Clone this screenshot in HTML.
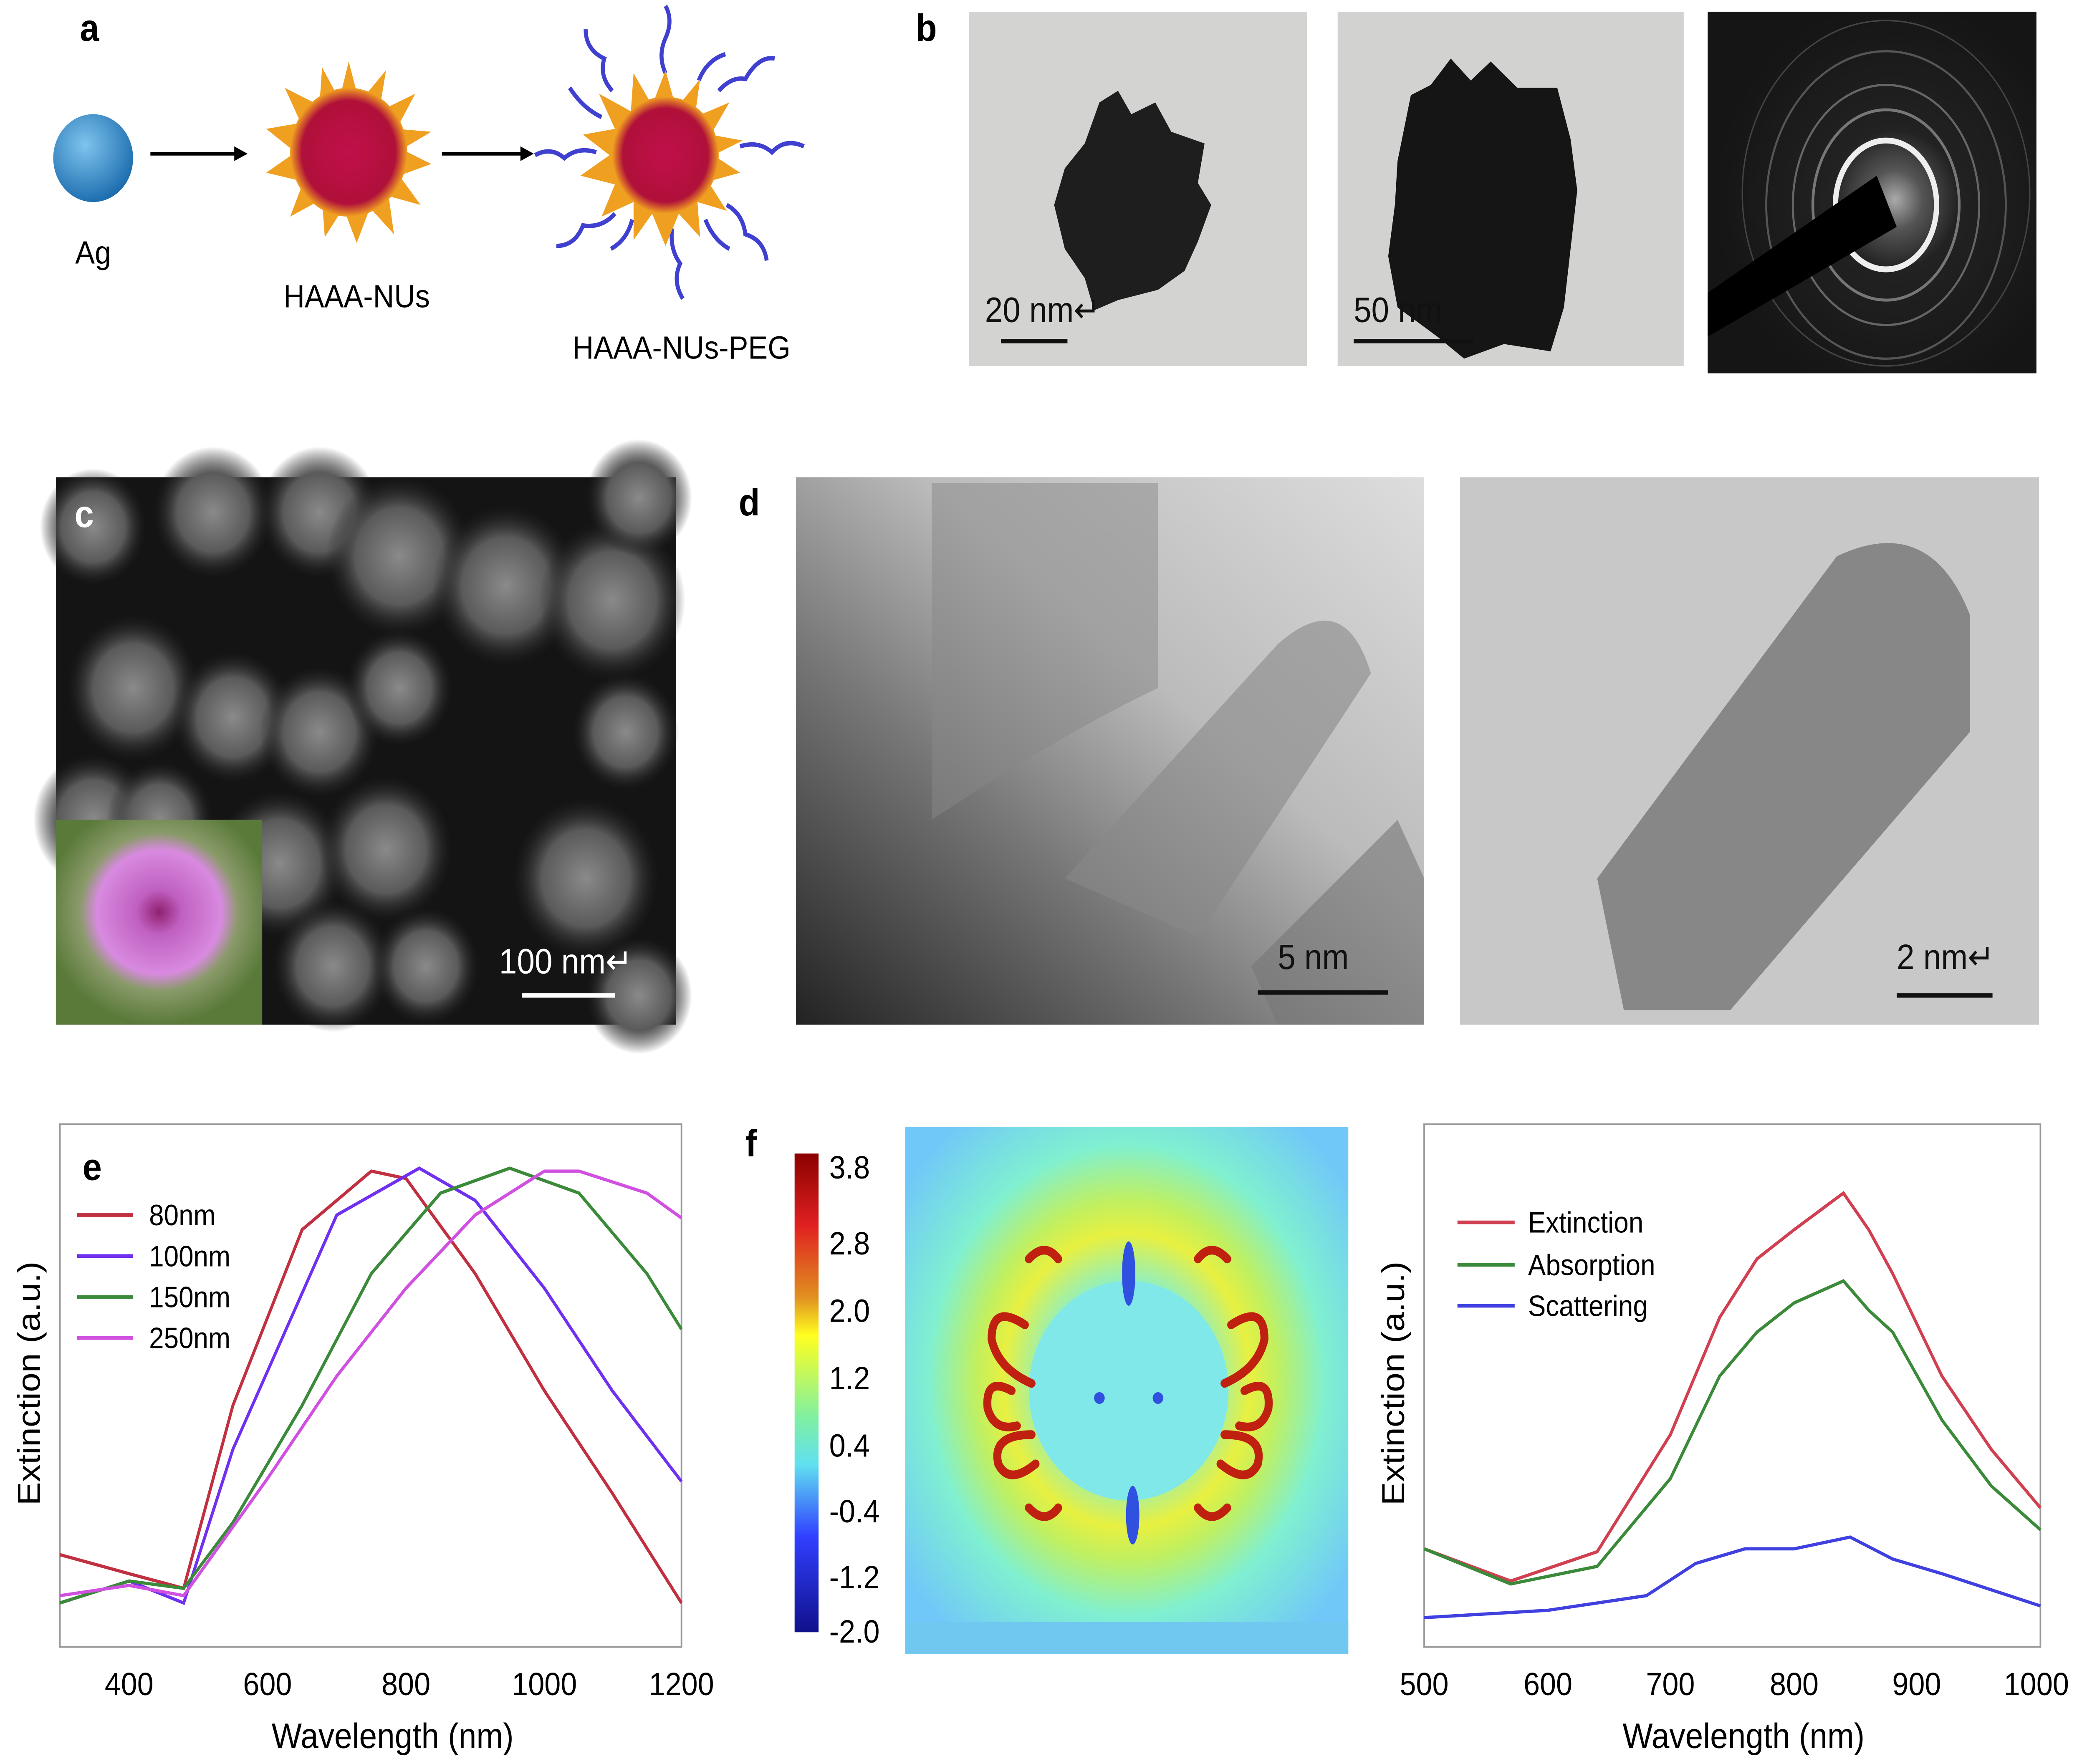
<!DOCTYPE html>
<html><head><meta charset="utf-8"><style>
html,body{margin:0;padding:0;background:#fff;overflow:hidden;width:100vw;height:100vh;}
svg{display:block;width:100vw;height:100vh;}
text{font-family:"Liberation Sans",sans-serif;}
</style></head><body>
<svg viewBox="0 0 1568 1205" preserveAspectRatio="none" xmlns="http://www.w3.org/2000/svg">
<defs>
<radialGradient id="ag" cx="40%" cy="35%" r="65%"><stop offset="0" stop-color="#7fc4ee"/><stop offset="1" stop-color="#1f6fb0"/></radialGradient>
<radialGradient id="nu" cx="50%" cy="50%" r="50%"><stop offset="0" stop-color="#c0104a"/><stop offset="0.8" stop-color="#b0103a"/><stop offset="1" stop-color="#f0a020"/></radialGradient>
<radialGradient id="saed" cx="57%" cy="52%" r="55%"><stop offset="0" stop-color="#aaa"/><stop offset="0.15" stop-color="#555"/><stop offset="0.35" stop-color="#222"/><stop offset="1" stop-color="#151515"/></radialGradient>
<radialGradient id="sem" cx="50%" cy="50%" r="50%"><stop offset="0" stop-color="#8a8a8a"/><stop offset="0.6" stop-color="#5a5a5a"/><stop offset="1" stop-color="#222" stop-opacity="0"/></radialGradient>
<radialGradient id="flower" cx="50%" cy="45%" r="55%"><stop offset="0" stop-color="#902070"/><stop offset="0.2" stop-color="#c060c0"/><stop offset="0.55" stop-color="#d88ae0"/><stop offset="0.7" stop-color="#8a9a6a"/><stop offset="1" stop-color="#5a7a3a"/></radialGradient>
<linearGradient id="d1" x1="0" y1="1" x2="1" y2="0"><stop offset="0" stop-color="#222"/><stop offset="0.35" stop-color="#777"/><stop offset="0.6" stop-color="#bbb"/><stop offset="1" stop-color="#ddd"/></linearGradient>
<linearGradient id="cbar" x1="0" y1="0" x2="0" y2="1"><stop offset="0" stop-color="#8b0000"/><stop offset="0.15" stop-color="#e02020"/><stop offset="0.3" stop-color="#e09020"/><stop offset="0.38" stop-color="#ffff20"/><stop offset="0.55" stop-color="#80f0a0"/><stop offset="0.65" stop-color="#60e0f0"/><stop offset="0.8" stop-color="#3040ff"/><stop offset="1" stop-color="#10108b"/></linearGradient>
<radialGradient id="field" cx="50%" cy="48%" r="62%"><stop offset="0" stop-color="#80f0d8"/><stop offset="0.3" stop-color="#90f0c0"/><stop offset="0.45" stop-color="#e8f040"/><stop offset="0.55" stop-color="#c0f060"/><stop offset="0.72" stop-color="#80f0d0"/><stop offset="1" stop-color="#70c8f8"/></radialGradient>
</defs>

<!-- panel a -->
<text x="60" y="28" font-size="26" font-weight="bold">a</text>
<circle cx="70" cy="108" r="30" fill="url(#ag)"/>
<text x="70" y="180" font-size="22" text-anchor="middle">Ag</text>
<line x1="113" y1="105" x2="178" y2="105" stroke="#000" stroke-width="2.5"/><polygon points="186,105 176,100 176,110"/>
<polygon fill="#f0a020" points="262,42 270,70 290,48 285,76 312,64 298,88 324,90 302,102 324,112 300,120 316,140 292,134 296,160 278,142 268,166 258,142 244,162 242,136 218,148 228,124 200,118 222,104 200,88 226,84 214,60 240,72 242,46 255,68"/>
<circle cx="262" cy="104" r="44" fill="url(#nu)"/>
<text x="268" y="210" font-size="22" text-anchor="middle">HAAA-NUs</text>
<line x1="332" y1="105" x2="393" y2="105" stroke="#000" stroke-width="2.5"/><polygon points="401,105 391,100 391,110"/>
<g stroke="#4040d0" stroke-width="3" fill="none">
<path d="M500 50 q-6 -12 0 -24 q6 -12 0 -22"/><path d="M540 62 q10 -10 20 -8 q10 -16 22 -14"/><path d="M556 100 q14 -4 24 4 q10 -10 24 -4"/><path d="M546 140 q12 6 14 20 q14 4 16 18"/><path d="M505 156 q-2 14 6 24 q-6 12 2 24"/><path d="M462 146 q-10 10 -24 8 q-6 14 -20 14"/><path d="M448 104 q-14 -4 -24 4 q-10 -8 -22 -2"/><path d="M460 62 q-10 -10 -6 -22 q-14 -6 -14 -20"/><path d="M525 55 q6 -14 20 -18"/><path d="M475 150 q-4 14 -16 20"/><path d="M530 150 q6 14 18 20"/><path d="M452 80 q-14 -6 -24 -20"/></g>
<polygon fill="#f0a020" points="500,48 508,74 526,54 522,80 548,70 534,92 558,96 536,106 556,118 532,124 546,144 524,138 526,162 510,146 500,168 490,146 476,164 476,138 452,148 462,126 436,120 458,106 438,92 462,88 450,64 474,76 476,50 490,72"/>
<circle cx="500" cy="106" r="40" fill="url(#nu)"/>
<text x="512" y="245" font-size="22" text-anchor="middle">HAAA-NUs-PEG</text>

<!-- panel b -->
<text x="688" y="28" font-size="26" font-weight="bold">b</text>
<rect x="728" y="8" width="254" height="242" fill="#d3d3d1"/>
<path d="M815 190 L800 170 L792 140 L800 115 L815 98 L826 70 L840 62 L850 78 L868 70 L880 90 L905 98 L900 125 L910 140 L900 165 L890 185 L870 198 L840 205 L822 212 Z" fill="#1e1e1e"/>
<text x="740" y="220" font-size="24" fill="#111">20 nm↵</text>
<line x1="752" y1="233" x2="802" y2="233" stroke="#111" stroke-width="3"/>
<rect x="1005" y="8" width="260" height="242" fill="#d2d2d0"/>
<path d="M1050 110 L1060 65 L1075 58 L1090 40 L1105 55 L1120 42 L1140 60 L1170 60 L1180 95 L1185 130 L1180 170 L1175 210 L1165 240 L1130 235 L1100 245 L1080 230 L1050 210 L1043 175 L1048 140 Z" fill="#151515"/>
<text x="1017" y="220" font-size="24" fill="#111">50 nm</text>
<line x1="1017" y1="233" x2="1107" y2="233" stroke="#111" stroke-width="3"/>
<rect x="1283" y="8" width="247" height="247" fill="url(#saed)"/>
<g fill="none"><ellipse cx="1417" cy="140" rx="38" ry="44" stroke="#eee" stroke-width="4"/><ellipse cx="1417" cy="140" rx="55" ry="65" stroke="#777" stroke-width="2"/><ellipse cx="1417" cy="140" rx="70" ry="82" stroke="#666" stroke-width="1.5"/><ellipse cx="1417" cy="140" rx="90" ry="105" stroke="#555" stroke-width="1.5"/><ellipse cx="1417" cy="132" rx="108" ry="118" stroke="#444" stroke-width="1"/></g>
<polygon points="1283,200 1410,120 1425,155 1283,230" fill="#000"/>

<!-- panel c -->
<rect x="42" y="326" width="466" height="374" fill="#141414"/>
<g fill="url(#sem)">
<circle cx="70" cy="360" r="40"/><circle cx="160" cy="350" r="45"/><circle cx="240" cy="350" r="45"/><circle cx="300" cy="380" r="55"/><circle cx="380" cy="400" r="55"/><circle cx="460" cy="410" r="55"/><circle cx="480" cy="340" r="40"/><circle cx="100" cy="470" r="50"/><circle cx="175" cy="490" r="45"/><circle cx="240" cy="500" r="45"/><circle cx="300" cy="470" r="40"/><circle cx="70" cy="560" r="45"/><circle cx="120" cy="560" r="40"/><circle cx="210" cy="590" r="50"/><circle cx="290" cy="580" r="50"/><circle cx="250" cy="660" r="45"/><circle cx="320" cy="660" r="40"/><circle cx="440" cy="600" r="55"/><circle cx="480" cy="680" r="40"/><circle cx="470" cy="500" r="40"/></g>
<rect x="42" y="560" width="155" height="140" fill="url(#flower)"/>
<text x="375" y="665" font-size="24" fill="#fff">100 nm↵</text>
<line x1="392" y1="680" x2="462" y2="680" stroke="#fff" stroke-width="3"/>
<text x="56" y="360" font-size="26" font-weight="bold" fill="#fff">c</text>

<!-- panel d -->
<text x="555" y="352" font-size="26" font-weight="bold">d</text>
<rect x="598" y="326" width="472" height="374" fill="url(#d1)"/>
<path d="M700 330 L870 330 L870 470 Q800 500 700 560z" fill="#888" opacity="0.5"/>
<path d="M800 600 L960 440 Q1010 400 1030 460 L900 640z" fill="#888" opacity="0.6"/>
<path d="M940 660 L1050 560 L1070 600 L1070 700 L960 700z" fill="#777" opacity="0.6"/>
<text x="960" y="662" font-size="24" fill="#111">5 nm</text>
<line x1="945" y1="678" x2="1043" y2="678" stroke="#111" stroke-width="3"/>
<rect x="1097" y="326" width="435" height="374" fill="#c8c8c8"/>
<path d="M1200 600 L1380 380 Q1450 350 1480 420 L1480 500 L1300 690 L1220 690z" fill="#777" opacity="0.8"/>
<text x="1425" y="662" font-size="24" fill="#111">2 nm↵</text>
<line x1="1425" y1="680" x2="1497" y2="680" stroke="#111" stroke-width="3"/>

<!-- panel e -->
<rect x="45" y="768" width="467" height="357" fill="none" stroke="#999" stroke-width="1.2"/>
<text x="62" y="806" font-size="26" font-weight="bold">e</text>
<g stroke-width="2.2" fill="none">
<polyline stroke="#c03040" points="45,1062 97,1075 138,1085 175,960 227,840 279,800 305,805 357,870 409,950 460,1020 512,1095"/>
<polyline stroke="#7030f0" points="45,1095 97,1080 138,1095 175,990 253,830 315,798 357,820 409,880 460,950 512,1012"/>
<polyline stroke="#3a8a3a" points="45,1095 97,1080 138,1085 175,1040 227,960 279,870 331,815 383,798 435,815 486,870 512,908"/>
<polyline stroke="#d050e0" points="45,1090 97,1083 138,1090 201,1010 253,940 305,880 357,830 409,800 435,800 486,815 512,832"/>
</g>
<g font-size="20"><line x1="58" y1="830" x2="100" y2="830" stroke="#c03040" stroke-width="2.5"/><text x="112" y="837">80nm</text>
<line x1="58" y1="858" x2="100" y2="858" stroke="#7030f0" stroke-width="2.5"/><text x="112" y="865">100nm</text>
<line x1="58" y1="886" x2="100" y2="886" stroke="#3a8a3a" stroke-width="2.5"/><text x="112" y="893">150nm</text>
<line x1="58" y1="914" x2="100" y2="914" stroke="#d050e0" stroke-width="2.5"/><text x="112" y="921">250nm</text></g>
<g font-size="22" text-anchor="middle"><text x="97" y="1158">400</text><text x="201" y="1158">600</text><text x="305" y="1158">800</text><text x="409" y="1158">1000</text><text x="512" y="1158">1200</text></g>
<text x="295" y="1194" font-size="24" text-anchor="middle">Wavelength (nm)</text>
<text transform="translate(30,945) rotate(-90)" font-size="24" text-anchor="middle">Extinction (a.u.)</text>

<!-- panel f -->
<text x="560" y="790" font-size="26" font-weight="bold">f</text>
<rect x="597" y="788" width="18" height="327" fill="url(#cbar)"/>
<g font-size="22"><text x="623" y="805">3.8</text><text x="623" y="857">2.8</text><text x="623" y="903">2.0</text><text x="623" y="949">1.2</text><text x="623" y="995">0.4</text><text x="623" y="1040">-0.4</text><text x="623" y="1085">-1.2</text><text x="623" y="1122">-2.0</text></g>
<rect x="680" y="770" width="333" height="360" fill="url(#field)"/>
<rect x="680" y="1108" width="333" height="22" fill="#70c8f0"/>
<circle cx="848" cy="950" r="75" fill="#80e8e8"/>
<g fill="none" stroke="#c02010" stroke-width="6" stroke-linecap="round">
<path d="M770 905 q-25 -15 -25 10 q5 20 30 30"/><path d="M760 950 q-20 -10 -18 12 q5 16 22 12"/><path d="M775 980 q-30 0 -25 20 q8 15 28 0"/>
<path d="M925 905 q25 -15 25 10 q-5 20 -30 30"/><path d="M935 950 q20 -10 18 12 q-5 16 -22 12"/><path d="M920 980 q30 0 25 20 q-8 15 -28 0"/>
<path d="M795 860 q-10 -12 -22 0"/><path d="M900 860 q10 -12 22 0"/><path d="M795 1030 q-10 12 -22 0"/><path d="M900 1030 q10 12 22 0"/>
</g>
<g fill="#3050e0"><ellipse cx="848" cy="870" rx="5" ry="22"/><ellipse cx="851" cy="1035" rx="5" ry="20"/><circle cx="826" cy="955" r="4"/><circle cx="870" cy="955" r="4"/></g>

<!-- right chart -->
<rect x="1070" y="768" width="463" height="357" fill="none" stroke="#999" stroke-width="1.2"/>
<g stroke-width="2.2" fill="none">
<polyline stroke="#d04050" points="1070,1058 1135,1080 1200,1060 1255,980 1292,900 1320,860 1348,840 1385,815 1404,840 1422,870 1459,940 1496,990 1533,1030"/>
<polyline stroke="#3a8a3a" points="1070,1058 1135,1082 1200,1070 1255,1010 1292,940 1320,910 1348,890 1385,875 1404,895 1422,910 1459,970 1496,1015 1533,1045"/>
<polyline stroke="#4040e0" points="1070,1105 1163,1100 1237,1090 1274,1068 1311,1058 1348,1058 1390,1050 1422,1065 1459,1075 1533,1097"/>
</g>
<g font-size="20"><line x1="1095" y1="835" x2="1138" y2="835" stroke="#d04050" stroke-width="2.5"/><text x="1148" y="842">Extinction</text>
<line x1="1095" y1="864" x2="1138" y2="864" stroke="#3a8a3a" stroke-width="2.5"/><text x="1148" y="871">Absorption</text>
<line x1="1095" y1="892" x2="1138" y2="892" stroke="#4040e0" stroke-width="2.5"/><text x="1148" y="899">Scattering</text></g>
<g font-size="22" text-anchor="middle"><text x="1070" y="1158">500</text><text x="1163" y="1158">600</text><text x="1255" y="1158">700</text><text x="1348" y="1158">800</text><text x="1440" y="1158">900</text><text x="1530" y="1158">1000</text></g>
<text x="1310" y="1194" font-size="24" text-anchor="middle">Wavelength (nm)</text>
<text transform="translate(1055,945) rotate(-90)" font-size="24" text-anchor="middle">Extinction (a.u.)</text>
</svg>
</body></html>
